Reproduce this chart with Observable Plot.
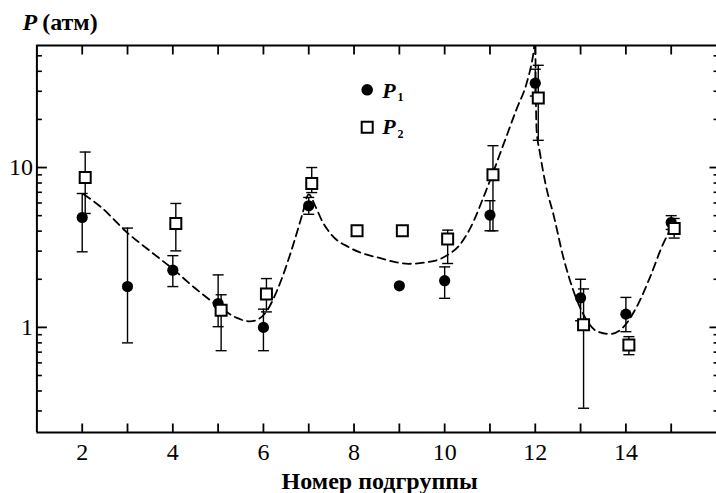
<!DOCTYPE html>
<html>
<head>
<meta charset="utf-8">
<script src="https://cdn.jsdelivr.net/npm/d3@7"></script>
<script src="https://cdn.jsdelivr.net/npm/@observablehq/plot@0.6"></script>
<style>
  html, body { margin: 0; padding: 0; background: #fff; }
  svg { display: block; }
</style>
</head>
<body>
<div id="chart"></div>
<script>
// P1: measured pressure per subgroup (atm), with error bar limits
const p1Groups = [2, 3, 4, 5, 6, 7, 9, 10, 11, 12, 13, 14, 15];
const p1Values = [4.87, 1.80, 2.28, 1.41, 1.00, 5.76, 1.82, 1.96, 5.04, 33.7, 1.53, 1.21, 4.53];
const p1Low    = [2.97, 0.80, 1.80, 1.01, 0.715, 5.10, null, 1.52, 4.02, 28.0, 1.10, 0.94, 4.10];
const p1High   = [6.88, 4.18, 2.81, 2.13, 1.30, 6.50, null, 2.39, 6.20, 41.2, 2.00, 1.54, 5.00];

// P2: second estimate per subgroup (atm), with error bar limits
const p2Groups = [2, 4, 5, 6, 7, 8, 9, 10, 11, 12, 13, 14, 15];
const p2Values = [8.66, 4.47, 1.28, 1.62, 7.94, 4.02, 4.02, 3.57, 9.00, 27.2, 1.04, 0.776, 4.16];
const p2Low    = [5.16, 3.01, 0.715, 1.25, 6.97, null, null, 2.51, 4.02, 14.8, 0.312, 0.675, 3.62];
const p2High   = [12.5, 5.96, 1.60, 2.02, 10.0, null, null, 4.06, 13.7, 43.6, 1.74, 0.875, 4.80];

// Dashed fitted curve through the subgroups
const curveX = [2.03, 2.4, 3.0, 3.5, 4.0, 4.5, 5.0, 5.4, 5.7, 5.9, 6.1, 6.3, 6.5, 6.7, 6.85, 7.0,
                7.15, 7.3, 7.5, 7.9, 8.6, 9.2, 9.8, 10.1, 10.3, 10.56, 10.9, 11.3, 11.6, 11.8,
                11.95, 12.0, 12.01, 12.03, 12.1, 12.23, 12.4, 12.62, 12.84, 13.06, 13.35, 13.65,
                13.94, 14.23, 14.53, 14.82, 14.97];
const curveY = [6.8, 5.7, 3.9, 3.0, 2.32, 1.75, 1.36, 1.15, 1.09, 1.13, 1.3, 1.7, 2.4, 3.6, 5.0, 6.8,
                5.7, 4.6, 3.8, 3.16, 2.7, 2.5, 2.62, 2.88, 3.2, 4.15, 7.0, 14, 23.7, 33,
                50, 62, 32, 17, 12.5, 7.8, 5.1, 2.74, 1.70, 1.21, 0.95, 0.91,
                1.0, 1.33, 2.05, 3.32, 4.02];

// Axis ticks and labels
const xTicks = [2, 3, 4, 5, 6, 7, 8, 9, 10, 11, 12, 13, 14, 15];
const xTickLabels = [2, 4, 6, 8, 10, 12, 14];
const yMajor = [1, 10];
const yMinor = [0.3, 0.4, 0.5, 0.6, 0.7, 0.8, 0.9, 2, 3, 4, 5, 6, 7, 8, 9, 20, 30, 40, 50];
const yTickLabels = ["1", "10"];

const yTitle = ["P", "(атм)"];
const xTitle = "Номер подгруппы";
const seriesNames = ["P", "P"];
const seriesIndex = ["1", "2"];

const rows = (groups, values, low, high) =>
  groups.map((g, i) => ({g, v: values[i], lo: low[i], hi: high[i]}));
const p1 = rows(p1Groups, p1Values, p1Low, p1High);
const p2 = rows(p2Groups, p2Values, p2Low, p2High);
const curve = curveX.map((x, i) => ({x, y: curveY[i]}));

// Fixed-size line symbols for caps and axis ticks
const hLine = w => ({draw(c) { c.moveTo(-w / 2, 0); c.lineTo(w / 2, 0); }});
const tickUp = L => ({draw(c) { c.moveTo(0, 0); c.lineTo(0, -L); }});
const tickDown = L => ({draw(c) { c.moveTo(0, 0); c.lineTo(0, L); }});
const tickRight = L => ({draw(c) { c.moveTo(0, 0); c.lineTo(L, 0); }});
const tickLeft = L => ({draw(c) { c.moveTo(0, 0); c.lineTo(-L, 0); }});
const square = s => ({draw(c) { c.rect(-s / 2, -s / 2, s, s); }});

const serif = "Liberation Serif";
const sqDx = 3;
const txt = {fontFamily: serif, fill: "black", stroke: "none"};

const errBars = (data, dx, sw) => [
  Plot.ruleX(data.filter(d => d.lo != null), {x: "g", y1: "lo", y2: "hi", dx, stroke: "black", strokeWidth: sw}),
  Plot.dot(data.filter(d => d.lo != null), {x: "g", y: "lo", dx, symbol: hLine(11), fill: "none", stroke: "black", strokeWidth: sw}),
  Plot.dot(data.filter(d => d.hi != null), {x: "g", y: "hi", dx, symbol: hLine(11), fill: "none", stroke: "black", strokeWidth: sw})
];

// legend entry label: bold italic "P" followed by a small index
const legendLabel = (i, dy) => [
  Plot.text([seriesNames[i]], {...txt, text: d => d, frameAnchor: "top-left", textAnchor: "start", lineAnchor: "bottom", dx: 345.3, dy, fontSize: 22, fontWeight: "bold", fontStyle: "italic"}),
  Plot.text([seriesIndex[i]], {...txt, text: d => d, frameAnchor: "top-left", textAnchor: "start", lineAnchor: "bottom", dx: 360.5, dy: dy + 3.5, fontSize: 12, fontWeight: "bold"})
];

const chart = Plot.plot({
  width: 716,
  height: 493,
  marginLeft: 36.4,
  marginRight: 0,
  marginTop: 45,
  marginBottom: 61,
  style: {fontFamily: serif, background: "#fff", color: "black"},
  x: {domain: [1, 16], axis: null},
  y: {type: "log", domain: [0.22, 58], axis: null},
  marks: [
    // frame: left, top, bottom
    Plot.ruleX([1], {stroke: "black", strokeWidth: 2}),
    Plot.ruleY([58], {stroke: "black", strokeWidth: 2}),
    Plot.ruleY([0.22], {stroke: "black", strokeWidth: 2}),

    // x ticks, bottom (up) and top (down)
    Plot.dot(xTicks, {x: d => d, frameAnchor: "bottom", symbol: tickUp(9), fill: "none", stroke: "black", strokeWidth: 1.8}),
    Plot.dot(xTicks, {x: d => d, frameAnchor: "top", symbol: tickDown(9), fill: "none", stroke: "black", strokeWidth: 1.8}),

    // y ticks, left (inward) and right (inward)
    Plot.dot(yMajor, {y: d => d, frameAnchor: "left", symbol: tickRight(10), fill: "none", stroke: "black", strokeWidth: 1.8}),
    Plot.dot(yMinor, {y: d => d, frameAnchor: "left", symbol: tickRight(5), fill: "none", stroke: "black", strokeWidth: 1.6}),
    Plot.dot(yMajor, {y: d => d, frameAnchor: "right", symbol: tickLeft(7), fill: "none", stroke: "black", strokeWidth: 1.8}),
    Plot.dot(yMinor, {y: d => d, frameAnchor: "right", symbol: tickLeft(3), fill: "none", stroke: "black", strokeWidth: 1.6}),

    // tick labels
    Plot.text(xTickLabels, {...txt, x: d => d, text: d => String(d), frameAnchor: "bottom", lineAnchor: "bottom", dy: 27, fontSize: 24}),
    Plot.text(yMajor, {...txt, y: d => d, text: (d, i) => yTickLabels[i], frameAnchor: "left", textAnchor: "end", lineAnchor: "middle", dx: -4, fontSize: 24}),

    // axis titles
    Plot.text([yTitle[0]], {...txt, text: d => d, frameAnchor: "top-left", textAnchor: "start", lineAnchor: "bottom", dx: -14.4, dy: -16, fontSize: 24, fontWeight: "bold", fontStyle: "italic"}),
    Plot.text([yTitle[1]], {...txt, text: d => d, frameAnchor: "top-left", textAnchor: "start", lineAnchor: "bottom", dx: 5.3, dy: -16, fontSize: 24, fontWeight: "bold"}),
    Plot.text([xTitle], {...txt, text: d => d, frameAnchor: "bottom", lineAnchor: "bottom", dx: 3, dy: 56, fontSize: 24, fontWeight: "bold"}),

    // fitted curve
    Plot.line(curve, {x: "x", y: "y", curve: "monotone-x", stroke: "black", strokeWidth: 1.8, strokeDasharray: "8,5", clip: true}),

    // error bars
    ...errBars(p1, 0, 1.4),
    ...errBars(p2, sqDx, 1.4),

    // data points
    Plot.dot(p1, {x: "g", y: "v", r: 5.6, fill: "black", stroke: "none"}),
    Plot.dot(p2, {x: "g", y: "v", dx: sqDx, symbol: square(11), fill: "white", stroke: "black", strokeWidth: 2}),

    // legend
    Plot.dot([seriesNames[0]], {frameAnchor: "top-left", dx: 330.3, dy: 44.3, r: 5.8, fill: "black", stroke: "none"}),
    Plot.dot([seriesNames[1]], {frameAnchor: "top-left", dx: 330.3, dy: 81.7, symbol: square(11), fill: "white", stroke: "black", strokeWidth: 2}),
    ...legendLabel(0, 52),
    ...legendLabel(1, 88.5)
  ]
});

document.getElementById("chart").appendChild(chart);
</script>
</body>
</html>
